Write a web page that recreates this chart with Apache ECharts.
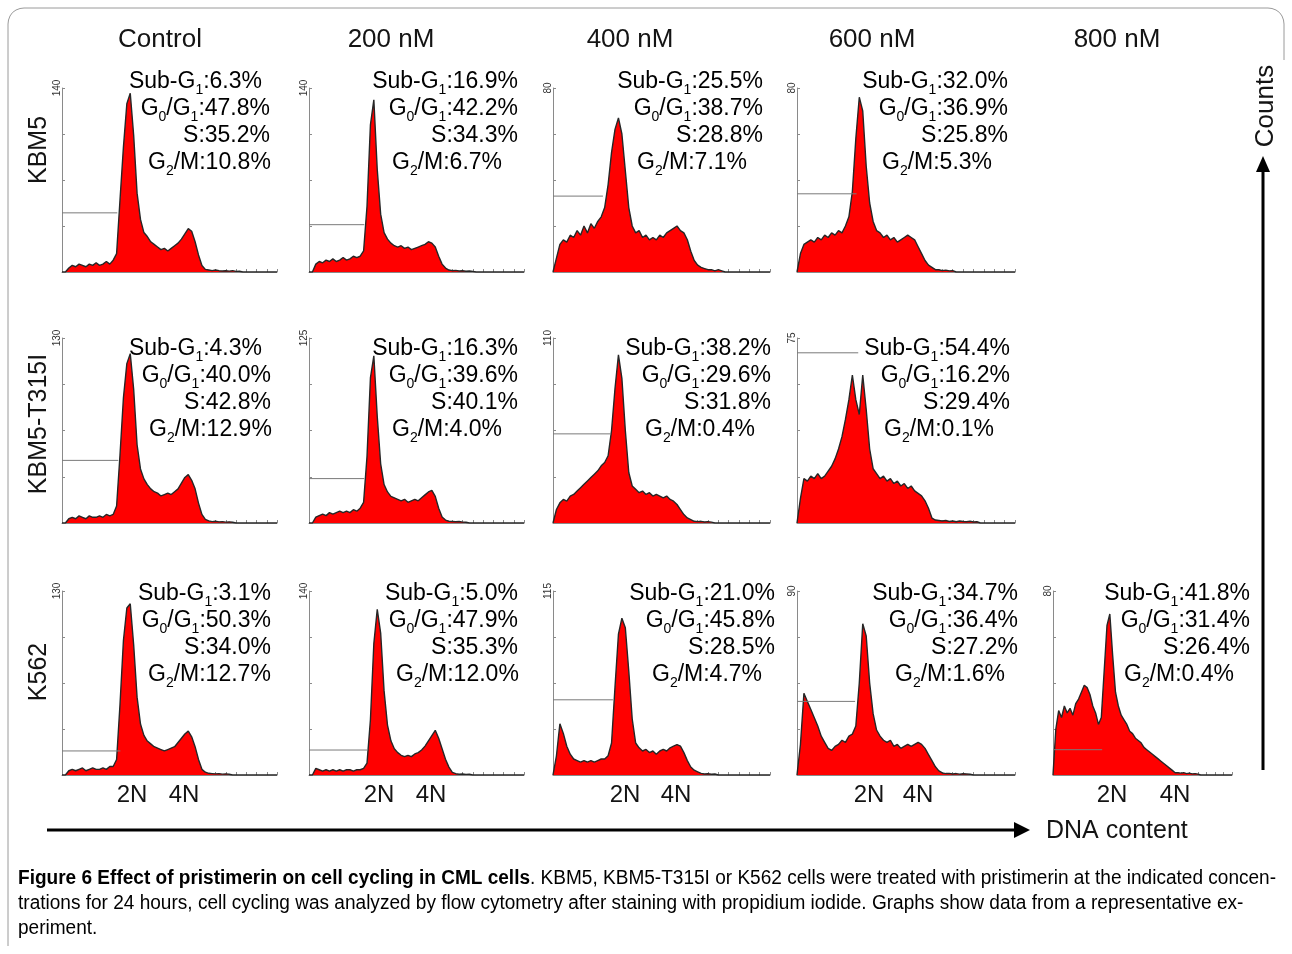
<!DOCTYPE html>
<html><head><meta charset="utf-8">
<script src="https://cdn.jsdelivr.net/npm/echarts@6/dist/echarts.min.js"></script>
<style>html,body{margin:0;padding:0;background:#fff}#c{width:1292px;height:954px}</style>
</head><body><div id="c"></div>
<script>
// ---------------- DATA ----------------
const columns = ['Control', '200 nM', '400 nM', '600 nM', '800 nM'];
const cellLines = ['KBM5', 'KBM5-T315I', 'K562'];
const ploidy = ['2N', '4N'];
const counts = 'Counts';
const dnaContent = 'DNA content';

// DNA-content histograms, 64 channels each (counts per channel)
const kbm5_control = [0,0,3,5,4,6,5,4,6,5,7,5,6,8,6,9,14,55,95,128,136,104,60,40,30,27,23,21,19,17,18,16,18,20,22,25,29,33,31,23,13,5,2,1.5,1,1.5,1,0.8,1,0.7,1,0.5,0.6,0,0,0,0,0,0,0,0,0,0,0];
const kbm5_200 = [0,0,6,8,7,9,8,10,8,9,11,9,10,12,11,12,16,50,112,131,78,44,30,25,22,20,19,20,18,19,17,18,19,20,21,23,22,19,12,6,3,1.5,1,1.2,0.8,1,0.6,0.8,0.5,0,0,0,0,0,0,0,0,0,0,0,0,0,0,0];
const kbm5_400 = [0,6,12,14,13,16,15,18,16,20,17,21,19,22,24,28,38,52,62,67,60,44,28,20,17,18,15,16,14,15,14,16,15,17,18,19,20,18,17,14,9,5,3,2,1.5,1,1,0.5,1,0.5,0,0,0,0,0,0,0,0,0,0,0,0,0,0];
const kbm5_600 = [0,8,12,13,14,13,15,14,16,15,17,16,18,17,20,24,35,58,76,70,46,30,22,18,17,15,16,14,15,13,14,15,16,15,14,11,8,5,3,2,1,1,0.6,0.8,0.5,0.6,0,0,0,0,0,0,0,0,0,0,0,0,0,0,0,0,0,0];

const t315i_control = [0,0,3,4,3,5,4,3,5,4,4,5,4,6,5,6,12,48,88,112,119,94,55,38,31,27,24,22,21,19,20,21,20,22,24,28,32,34,30,24,14,6,2.5,1.5,1,1.2,0.8,1,0.6,0.8,0.5,0,0,0,0,0,0,0,0,0,0,0,0,0];
const t315i_200 = [0,0,4,5,6,5,7,6,7,8,7,8,7,9,8,10,14,45,98,113,72,40,26,21,18,17,16,15,16,14,15,16,15,17,19,21,22,18,10,4,2,1.2,1,0.8,1,0.6,0.5,0,0,0,0,0,0,0,0,0,0,0,0,0,0,0,0,0];
const t315i_400 = [0,8,12,14,13,16,17,19,21,23,25,27,29,31,34,36,40,55,80,100,86,55,30,22,20,18,19,17,18,16,17,16,15,16,14,13,11,8,5,3,2,1,0.8,1,0.6,0.8,0.5,0,0,0,0,0,0,0,0,0,0,0,0,0,0,0,0,0];
const t315i_600 = [0,10,18,17,19,18,20,18,19,21,23,26,30,35,42,50,60,50,44,60,46,30,22,20,18,19,17,18,16,17,15,16,14,15,13,12,11,9,6,2,1.2,1,0.8,1,0.6,0.8,0.5,0.8,0.6,0.5,0.7,0.4,0.5,0,0,0,0,0,0,0,0,0,0,0];

const k562_control = [0,0,3,4,3,4,5,3,4,5,4,4,5,4,6,6,11,50,95,118,121,92,55,36,28,24,22,20,19,18,17,18,19,20,23,26,29,31,27,20,11,4,2,1.2,1,0.8,1,0.6,0.8,0.5,0,0,0,0,0,0,0,0,0,0,0,0,0,0];
const k562_200 = [0,0,5,4,3,4,3,4,3,4,3,4,4,3,4,4,5,9,42,100,126,108,64,38,26,20,17,15,14,15,14,16,17,19,22,26,30,34,28,20,12,6,2,1,0.6,0.8,0.5,0.6,0,0,0,0,0,0,0,0,0,0,0,0,0,0,0,0];
const k562_400 = [0,12,32,26,18,13,10,9,8,9,8,9,8,9,10,10,12,20,55,88,98,92,65,35,20,17,15,16,14,15,13,15,16,15,17,18,19,18,14,9,5,3,2,1,0.6,0.8,0.5,0.6,0,0,0,0,0,0,0,0,0,0,0,0,0,0,0,0];
const k562_600 = [0,15,40,36,32,28,24,19,16,13,12,14,15,17,16,19,20,24,45,74,68,45,30,22,19,17,16,17,14,15,13,14,15,14,15,16,15,13,10,7,4,2,1,0.7,0.8,0.5,0.7,0.4,0.6,0.5,0.4,0,0,0,0,0,0,0,0,0,0,0,0,0];
const k562_800 = [0,20,28,25,30,27,29,26,31,33,36,39,38,35,30,27,22,25,45,65,70,52,36,30,26,24,22,19,18,16,15,14,12,11,10,9,8,7,6,5,4,3,2,1,1,0.8,1,0.6,0.8,0.5,0.6,0.4,0,0,0,0,0,0,0,0,0,0,0,0];

// y-axis maxima (counts)
const kbm5Max = [140, 140, 80, 80];
const t315iMax = [130, 125, 110, 75];
const k562Max = [130, 140, 115, 90, 80];

// marker gate: level (counts) and right end (channel)
const kbm5GateLevel = [45, 36, 33, 34];
const kbm5GateEnd = [16.2, 16.2, 14.5, 17.2];
const t315iGateLevel = [44, 30, 53, 69];
const t315iGateEnd = [16.5, 16.2, 16.8, 17.7];
const k562GateLevel = [17, 19, 47, 36, 11];
const k562GateEnd = [17.1, 17.1, 17.4, 16.8, 17.3];

// cell-cycle phase percentages
const kbm5SubG1 = ['6.3', '16.9', '25.5', '32.0'];
const kbm5G0G1 = ['47.8', '42.2', '38.7', '36.9'];
const kbm5S = ['35.2', '34.3', '28.8', '25.8'];
const kbm5G2M = ['10.8', '6.7', '7.1', '5.3'];
const t315iSubG1 = ['4.3', '16.3', '38.2', '54.4'];
const t315iG0G1 = ['40.0', '39.6', '29.6', '16.2'];
const t315iS = ['42.8', '40.1', '31.8', '29.4'];
const t315iG2M = ['12.9', '4.0', '0.4', '0.1'];
const k562SubG1 = ['3.1', '5.0', '21.0', '34.7', '41.8'];
const k562G0G1 = ['50.3', '47.9', '45.8', '36.4', '31.4'];
const k562S = ['34.0', '35.3', '28.5', '27.2', '26.4'];
const k562G2M = ['12.7', '12.0', '4.7', '1.6', '0.4'];

const captionBold = 'Figure 6 Effect of pristimerin on cell cycling in CML cells';
const captionLine1 = '. KBM5, KBM5-T315I or K562 cells were treated with pristimerin at the indicated concen-';
const captionLine2 = 'trations for 24 hours, cell cycling was analyzed by flow cytometry after staining with propidium iodide. Graphs show data from a representative ex-';
const captionLine3 = 'periment.';

// ---------------- LAYOUT ----------------
const rowHists = [[kbm5_control, kbm5_200, kbm5_400, kbm5_600],
                  [t315i_control, t315i_200, t315i_400, t315i_600],
                  [k562_control, k562_200, k562_400, k562_600, k562_800]];
const rowMax = [kbm5Max, t315iMax, k562Max];
const rowGateLevel = [kbm5GateLevel, t315iGateLevel, k562GateLevel];
const rowGateEnd = [kbm5GateEnd, t315iGateEnd, k562GateEnd];
const rowSub = [kbm5SubG1, t315iSubG1, k562SubG1];
const rowG1 = [kbm5G0G1, t315iG0G1, k562G0G1];
const rowS = [kbm5S, t315iS, k562S];
const rowG2 = [kbm5G2M, t315iG2M, k562G2M];

const gridTop = [88, 338, 591];
const gridH = [184, 185, 184];
const colLeft = [62, 309, 553, 797, 1053];
const colW = [215, 215, 217, 218, 179];
const textY = [82, 349, 594];
const lineGap = 27;
const textRightSub = [[262, 518, 763, 1008], [262, 518, 771, 1010], [271, 518, 775, 1018, 1250]];
const textRight = [[270, 518, 763, 1008], [271, 518, 771, 1010], [271, 518, 775, 1018, 1250]];
const textLeftG2 = [[148, 392, 637, 882], [149, 392, 645, 884], [148, 396, 652, 895, 1124]];
const headX = [160, 391, 630, 872, 1117];
const ploidyX = [[132, 184], [379, 431], [625, 676], [869, 918], [1112, 1175]];
const rowLabelY = [150, 424, 672];

const F = "'Liberation Sans', Arial, Helvetica, sans-serif";
const ink = '#141414';

const grids = [], xAxes = [], yAxes = [], series = [], graphic = [];
let gi = 0;
rowHists.forEach((hists, r) => {
  hists.forEach((h, c) => {
    const m = rowMax[r][c];
    grids.push({ left: colLeft[c], top: gridTop[r], width: colW[c], height: gridH[r], containLabel: false });
    xAxes.push({ type: 'value', gridIndex: gi, min: 0, max: 63, interval: 3,
      axisLine: { show: true, onZero: false, lineStyle: { color: '#8a8a8a', width: 1 } },
      axisTick: { show: true, inside: true, length: 3, lineStyle: { color: '#8a8a8a' } },
      axisLabel: { show: false }, splitLine: { show: false } });
    yAxes.push({ type: 'value', gridIndex: gi, min: 0, max: m, interval: m / 4,
      axisLine: { show: true, onZero: false, lineStyle: { color: '#8a8a8a', width: 1 } },
      axisTick: { show: true, inside: true, length: 3, lineStyle: { color: '#8a8a8a' } },
      axisLabel: { show: true, rotate: 90, margin: 0, fontSize: 10, fontFamily: F, color: '#333',
        formatter: v => (v === m ? String(m) : '') },
      splitLine: { show: false } });
    series.push({ type: 'line', xAxisIndex: gi, yAxisIndex: gi, symbol: 'none', silent: true,
      data: h.map((v, i) => [i, v]),
      lineStyle: { color: '#262626', width: 1.4 },
      areaStyle: { color: '#ff0000', opacity: 1 }, z: 2 });
    series.push({ type: 'line', xAxisIndex: gi, yAxisIndex: gi, symbol: 'none', silent: true,
      data: [[0, rowGateLevel[r][c]], [rowGateEnd[r][c], rowGateLevel[r][c]]],
      lineStyle: { color: '#7a7a7a', width: 1 }, z: 3 });

    // phase annotations
    const rich = {
      n: { fontSize: 23, fontFamily: F, color: ink, lineHeight: 31 },
      s: { fontSize: 14, fontFamily: F, color: ink, lineHeight: 31, verticalAlign: 'bottom' }
    };
    const y0 = textY[r];
    graphic.push({ type: 'text', x: textRightSub[r][c], y: y0, z: 10,
      style: { text: '{n|Sub-G}{s|1}{n|:' + rowSub[r][c] + '%}', rich: rich, align: 'right', verticalAlign: 'middle' } });
    graphic.push({ type: 'text', x: textRight[r][c], y: y0 + lineGap, z: 10,
      style: { text: '{n|G}{s|0}{n|/G}{s|1}{n|:' + rowG1[r][c] + '%}', rich: rich, align: 'right', verticalAlign: 'middle' } });
    graphic.push({ type: 'text', x: textRight[r][c], y: y0 + 2 * lineGap, z: 10,
      style: { text: '{n|S:' + rowS[r][c] + '%}', rich: rich, align: 'right', verticalAlign: 'middle' } });
    graphic.push({ type: 'text', x: textLeftG2[r][c], y: y0 + 3 * lineGap, z: 10,
      style: { text: '{n|G}{s|2}{n|/M:' + rowG2[r][c] + '%}', rich: rich, align: 'left', verticalAlign: 'middle' } });
    gi++;
  });
});

// column headers
columns.forEach((t, c) => graphic.push({ type: 'text', x: headX[c], y: 40,
  style: { text: t, font: '26px ' + F, fill: ink, align: 'center', verticalAlign: 'middle' } }));
// row labels
cellLines.forEach((t, r) => graphic.push({ type: 'text', x: 39, y: rowLabelY[r], rotation: Math.PI / 2,
  style: { text: t, font: '25px ' + F, fill: ink, align: 'center', verticalAlign: 'middle' } }));
// 2N / 4N labels
ploidyX.forEach(p => p.forEach((x, k) => graphic.push({ type: 'text', x: x, y: 795,
  style: { text: ploidy[k], font: '24px ' + F, fill: ink, align: 'center', verticalAlign: 'middle' } })));
// DNA content arrow
graphic.push({ type: 'line', shape: { x1: 47, y1: 830, x2: 1018, y2: 830 }, style: { stroke: '#000', lineWidth: 3 } });
graphic.push({ type: 'polygon', shape: { points: [[1014, 822], [1030, 830], [1014, 838]] }, style: { fill: '#000' } });
graphic.push({ type: 'text', x: 1046, y: 831,
  style: { text: dnaContent, font: '25px ' + F, fill: ink, align: 'left', verticalAlign: 'middle' } });
// Counts arrow
graphic.push({ type: 'line', shape: { x1: 1263, y1: 770, x2: 1263, y2: 170 }, style: { stroke: '#000', lineWidth: 3 } });
graphic.push({ type: 'polygon', shape: { points: [[1256, 172], [1263, 156], [1270, 172]] }, style: { fill: '#000' } });
graphic.push({ type: 'text', x: 1266, y: 106, rotation: Math.PI / 2,
  style: { text: counts, font: '26px ' + F, fill: ink, align: 'center', verticalAlign: 'middle' } });
// frame (rounded top corners)
graphic.push({ type: 'polyline', shape: { points: [[8, 946], [8, 24], [8.5, 20], [10, 16], [12.5, 12.5], [16, 10], [20, 8.5], [24, 8],
  [1268, 8], [1272, 8.5], [1276, 10], [1279.5, 12.5], [1282, 16], [1283.5, 20], [1284, 24], [1284, 60]] },
  style: { fill: null, stroke: '#9a9a9a', lineWidth: 1 } });

// caption (condensed look via horizontal scaling)
const capFont = "'Liberation Sans', Arial, sans-serif";
const capSize = 20;
const cv = document.createElement('canvas').getContext('2d');
function tw(txt, bold) { cv.font = (bold ? 'bold ' : '') + capSize + 'px ' + capFont; return cv.measureText(txt).width; }
const w1 = tw(captionBold, true) + tw(captionLine1, false);
const capScale = 1258 / w1;
const capRich = { b: { fontSize: capSize, fontWeight: 'bold', fontFamily: capFont, color: '#111' },
                  r: { fontSize: capSize, fontFamily: capFont, color: '#333' } };
graphic.push({ type: 'text', x: 18, y: 878, scaleX: capScale, style: { text: '{b|' + captionBold + '}{r|' + captionLine1 + '}', rich: capRich, verticalAlign: 'middle' } });
graphic.push({ type: 'text', x: 18, y: 903, scaleX: capScale, style: { text: '{r|' + captionLine2 + '}', rich: capRich, verticalAlign: 'middle' } });
graphic.push({ type: 'text', x: 18, y: 928, scaleX: capScale, style: { text: '{r|' + captionLine3 + '}', rich: capRich, verticalAlign: 'middle' } });

const chart = echarts.init(document.getElementById('c'), null, { renderer: 'canvas', width: 1292, height: 954 });
chart.setOption({ animation: false, backgroundColor: '#fff', grid: grids, xAxis: xAxes, yAxis: yAxes, series: series, graphic: graphic });
</script></body></html>
